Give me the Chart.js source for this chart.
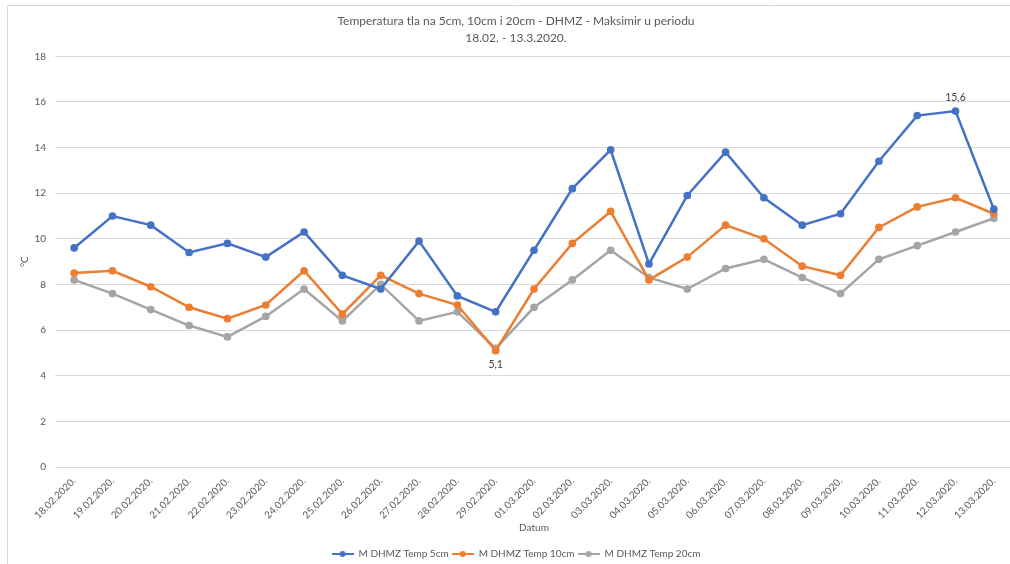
<!DOCTYPE html>
<html>
<head>
<meta charset="utf-8">
<script src="https://cdn.jsdelivr.net/npm/chart.js@4.4.1/dist/chart.umd.min.js"></script>
<style>
  html, body { margin: 0; padding: 0; background: #fff; overflow: hidden; width: 1010px; height: 564px; }
  #wrap { position: absolute; left: 0; top: 0; width: 1030px; height: 564px; }
</style>
</head>
<body>
<div id="wrap"><canvas id="c" width="1030" height="564"></canvas></div>
<script>
const titleLines = ['Temperatura tla na 5cm, 10cm i 20cm - DHMZ - Maksimir u periodu', '18.02. - 13.3.2020.'];
const categories = ['18.02.2020.','19.02.2020.','20.02.2020.','21.02.2020.','22.02.2020.','23.02.2020.','24.02.2020.','25.02.2020.','26.02.2020.','27.02.2020.','28.02.2020.','29.02.2020.','01.03.2020.','02.03.2020.','03.03.2020.','04.03.2020.','05.03.2020.','06.03.2020.','07.03.2020.','08.03.2020.','09.03.2020.','10.03.2020.','11.03.2020.','12.03.2020.','13.03.2020.'];
const temp5cm  = [9.6, 11.0, 10.6, 9.4, 9.8, 9.2, 10.3, 8.4, 7.8, 9.9, 7.5, 6.8, 9.5, 12.2, 13.9, 8.9, 11.9, 13.8, 11.8, 10.6, 11.1, 13.4, 15.4, 15.6, 11.3];
const temp10cm = [8.5, 8.6, 7.9, 7.0, 6.5, 7.1, 8.6, 6.7, 8.4, 7.6, 7.1, 5.1, 7.8, 9.8, 11.2, 8.2, 9.2, 10.6, 10.0, 8.8, 8.4, 10.5, 11.4, 11.8, 11.1];
const temp20cm = [8.2, 7.6, 6.9, 6.2, 5.7, 6.6, 7.8, 6.4, 8.0, 6.4, 6.8, 5.2, 7.0, 8.2, 9.5, 8.3, 7.8, 8.7, 9.1, 8.3, 7.6, 9.1, 9.7, 10.3, 10.9];
const seriesNames = ['M DHMZ Temp 5cm', 'M DHMZ Temp 10cm', 'M DHMZ Temp 20cm'];
const seriesColors = ['#4472C4', '#ED7D31', '#A5A5A5'];
const yTitle = '°C';
const xTitle = 'Datum';
const labelled = [{ds: 0, idx: 23, pos: 'above'}, {ds: 1, idx: 11, pos: 'below'}];

const FONT = 'Lato';
const TXT = '#595959';

function legendIcon(color) {
  const c = document.createElement('canvas');
  c.width = 22; c.height = 8;
  const g = c.getContext('2d');
  g.strokeStyle = color; g.lineWidth = 2;
  g.beginPath(); g.moveTo(0, 4); g.lineTo(22, 4); g.stroke();
  g.fillStyle = color;
  g.beginPath(); g.arc(11, 4, 3, 0, Math.PI * 2); g.fill();
  return c;
}

const frame = {
  id: 'frame',
  beforeDraw(chart) {
    const ctx = chart.ctx;
    ctx.save();
    ctx.strokeStyle = '#d9d9d9';
    ctx.lineWidth = 1;
    ctx.beginPath();
    ctx.moveTo(7.5, 564); ctx.lineTo(7.5, 5.5); ctx.lineTo(1030, 5.5);
    ctx.stroke();
    ctx.restore();
  }
};

const dataLabels = {
  id: 'dataLabels',
  afterDatasetsDraw(chart) {
    const ctx = chart.ctx;
    ctx.save();
    ctx.font = '10.5px ' + FONT;
    ctx.fillStyle = '#404040';
    ctx.textAlign = 'center';
    ctx.textBaseline = 'middle';
    labelled.forEach(l => {
      const el = chart.getDatasetMeta(l.ds).data[l.idx];
      const v = chart.data.datasets[l.ds].data[l.idx];
      const txt = v.toFixed(1).replace('.', ',');
      ctx.fillText(txt, el.x, l.pos === 'above' ? el.y - 13 : el.y + 14);
    });
    ctx.restore();
  }
};

new Chart(document.getElementById('c'), {
  type: 'line',
  data: {
    labels: categories,
    datasets: [temp5cm, temp10cm, temp20cm].map((d, i) => ({
      label: seriesNames[i],
      data: d,
      borderColor: seriesColors[i],
      backgroundColor: seriesColors[i],
      pointBackgroundColor: seriesColors[i],
      pointBorderColor: seriesColors[i],
      borderWidth: 2.5,
      pointRadius: 2.6,
      pointHoverRadius: 2.6,
      pointStyle: 'circle',
      tension: 0,
      fill: false
    }))
  },
  options: {
    responsive: false,
    animation: false,
    events: [],
    layout: { padding: { left: 19, right: 17, top: 0, bottom: -5 } },
    plugins: {
      title: {
        display: true,
        text: titleLines,
        color: TXT,
        font: { family: FONT, size: 12, weight: 'normal', lineHeight: 1.45 },
        padding: { top: 12, bottom: 9.5 }
      },
      legend: {
        position: 'bottom',
        labels: {
          color: TXT,
          font: { family: FONT, size: 10 },
          usePointStyle: true,
          pointStyleWidth: 22,
          padding: 3,
          generateLabels(chart) {
            return chart.data.datasets.map((ds, i) => ({
              text: ds.label,
              fillStyle: ds.borderColor,
              strokeStyle: ds.borderColor,
              lineWidth: 0,
              pointStyle: legendIcon(ds.borderColor),
              datasetIndex: i,
              hidden: false,
              fontColor: TXT
            }));
          }
        }
      },
      tooltip: { enabled: false }
    },
    scales: {
      x: {
        offset: true,
        grid: { display: false, drawTicks: false },
        border: { display: false },
        ticks: {
          color: TXT,
          font: { family: FONT, size: 10 },
          minRotation: 45, maxRotation: 45,
          autoSkip: false,
          padding: 8
        },
        title: {
          display: true, text: xTitle, color: TXT,
          font: { family: FONT, size: 10 },
          padding: { top: 0, bottom: 12 }
        },
        afterFit(s) { s.height = 79; }
      },
      y: {
        min: 0, max: 18,
        grid: { color: '#d9d9d9', lineWidth: 1, drawTicks: false },
        border: { display: false },
        ticks: {
          stepSize: 2,
          color: TXT,
          font: { family: FONT, size: 10 },
          padding: 9
        },
        title: {
          display: true, text: yTitle, color: TXT,
          font: { family: FONT, size: 10 },
          padding: 0
        },
        afterFit(s) { s.width = 36; }
      }
    }
  },
  plugins: [frame, dataLabels]
});
</script>
</body>
</html>
